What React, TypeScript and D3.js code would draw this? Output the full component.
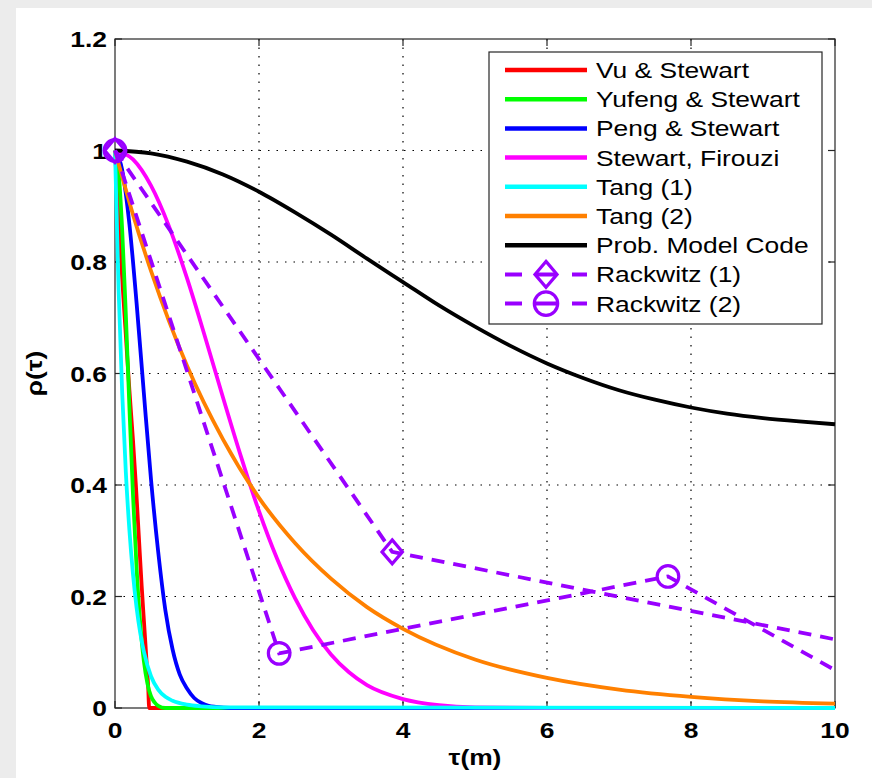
import * as d3 from "d3";

// correlation models, rho(tau)
const vuTau = [0, 0.05, 0.1, 0.15, 0.2, 0.25, 0.29, 0.33, 0.37, 0.41, 0.44, 0.46, 0.475, 0.6, 10];
const vuRho = [1, 0.88, 0.77, 0.67, 0.57, 0.48, 0.4, 0.31, 0.22, 0.14, 0.08, 0.04, 0, 0, 0];

const yufengTau = [0, 0.05, 0.1, 0.15, 0.2, 0.25, 0.3, 0.35, 0.4, 0.45, 0.5, 0.55, 0.6, 0.7, 10];
const yufengRho = [1, 0.962, 0.857, 0.707, 0.54, 0.382, 0.251, 0.152, 0.085, 0.044, 0.021, 0.01, 0.004, 0, 0];

const pengTau = [0, 0.1, 0.2, 0.3, 0.4, 0.5, 0.6, 0.7, 0.8, 0.9, 1.0, 1.1, 1.2, 1.3, 1.4, 1.6, 10];
const pengRho = [1, 0.965, 0.868, 0.726, 0.566, 0.41, 0.28, 0.175, 0.105, 0.06, 0.035, 0.018, 0.009, 0.004, 0.002, 0, 0];

const firouziTau = [0, 0.25, 0.5, 0.75, 1, 1.25, 1.5, 1.75, 2, 2.25, 2.5, 2.75, 3, 3.25, 3.5, 4, 4.5, 5, 6, 10];
const firouziRho = [1, 0.984, 0.937, 0.864, 0.771, 0.666, 0.557, 0.451, 0.353, 0.268, 0.197, 0.14, 0.096, 0.064, 0.041, 0.016, 0.005, 0.001, 0, 0];

const tang1Tau = [0, 0.05, 0.1, 0.15, 0.2, 0.25, 0.3, 0.35, 0.4, 0.5, 0.6, 0.7, 0.8, 1.0, 1.2, 1.5, 10];
const tang1Rho = [1, 0.751, 0.565, 0.424, 0.319, 0.24, 0.18, 0.135, 0.102, 0.057, 0.033, 0.02, 0.013, 0.006, 0.003, 0.001, 0];

const tang2Tau = [0, 0.25, 0.5, 0.75, 1, 1.5, 2, 2.5, 3, 3.5, 4, 5, 6, 7, 8, 9, 10];
const tang2Rho = [1, 0.885, 0.784, 0.694, 0.614, 0.482, 0.377, 0.296, 0.232, 0.181, 0.142, 0.087, 0.054, 0.033, 0.02, 0.012, 0.008];

const pmcTau = [0, 0.5, 1, 1.5, 2, 2.5, 3, 3.5, 4, 4.5, 5, 5.5, 6, 6.5, 7, 7.5, 8, 8.5, 9, 9.5, 10];
const pmcRho = [1, 0.995, 0.98, 0.957, 0.926, 0.889, 0.849, 0.806, 0.764, 0.722, 0.684, 0.649, 0.618, 0.592, 0.57, 0.553, 0.539, 0.528, 0.52, 0.514, 0.509];

const rack1Tau = [0, 3.85, 10];
const rack1Rho = [1, 0.28, 0.123];

const rack2Tau = [0, 2.28, 7.68, 10];
const rack2Rho = [1, 0.098, 0.236, 0.068];

const xTicks = [0, 2, 4, 6, 8, 10];
const yTicks = [0, 0.2, 0.4, 0.6, 0.8, 1, 1.2];

const purple = "#9900ff";

const smoothSeries = [
  { name: "Vu & Stewart", color: "#ff0000", tau: vuTau, rho: vuRho },
  { name: "Yufeng & Stewart", color: "#00ff00", tau: yufengTau, rho: yufengRho },
  { name: "Peng & Stewart", color: "#0000ff", tau: pengTau, rho: pengRho },
  { name: "Stewart, Firouzi", color: "#ff00ff", tau: firouziTau, rho: firouziRho },
  { name: "Tang (1)", color: "#00ffff", tau: tang1Tau, rho: tang1Rho },
  { name: "Tang (2)", color: "#ff8000", tau: tang2Tau, rho: tang2Rho },
  { name: "Prob. Model Code", color: "#000000", tau: pmcTau, rho: pmcRho },
];

const markedSeries = [
  { name: "Rackwitz (1)", marker: "diamond", tau: rack1Tau, rho: rack1Rho },
  { name: "Rackwitz (2)", marker: "circle", tau: rack2Tau, rho: rack2Rho },
];

const FONT = "'Liberation Sans', Arial, Helvetica, sans-serif";
const SX = 1.2; // the original text is drawn wider than Arial

function Marker({ kind, x, y, r }) {
  if (kind === "diamond") {
    return (
      <path
        d={`M${x},${y - r}L${x + r * 0.85},${y}L${x},${y + r}L${x - r * 0.85},${y}Z`}
        fill="none"
        stroke={purple}
        strokeWidth={3.2}
      />
    );
  }
  return <circle cx={x} cy={y} r={r * 0.9} fill="none" stroke={purple} strokeWidth={3.2} />;
}

function Label({ x, y, anchor, size, weight, rotate, children }) {
  const tr = `translate(${x},${y})${rotate ? ` rotate(${rotate})` : ""} scale(${SX},1)`;
  return (
    <text transform={tr} textAnchor={anchor} fontFamily={FONT} fontSize={size} fontWeight={weight} fill="#000">
      {children}
    </text>
  );
}

export default function App() {
  const width = 872;
  const height = 778;
  const left = 115, right = 835, top = 39, bottom = 708;

  const x = d3.scaleLinear().domain([0, 10]).range([left, right]);
  const y = d3.scaleLinear().domain([0, 1.2]).range([bottom, top]);

  const smooth = d3.line().curve(d3.curveMonotoneX);
  const straight = d3.line();
  const pts = (s) => s.tau.map((t, i) => [x(t), y(s.rho[i])]);

  const legX = 489, legY = 52, legW = 333, legH = 272;
  const rowY = (i) => 70 + i * 29.2;
  const legendItems = [...smoothSeries, ...markedSeries];
  const tickLen = 7;
  const axisColor = "#262626";

  return (
    <svg width={width} height={height} style={{ position: "absolute", left: 0, top: 0 }}>
      <rect x={0} y={0} width={width} height={height} fill="#ececec" />
      <rect x={16} y={8} width={width - 16} height={height - 8} fill="#fff" />

      {/* grid */}
      <g stroke="#000" strokeWidth={1.2} strokeDasharray="1.5 7">
        {xTicks.filter((t) => t > 0 && t < 10).map((t) => (
          <line key={"gx" + t} x1={x(t)} x2={x(t)} y1={top} y2={bottom} />
        ))}
        {yTicks.filter((t) => t > 0 && t < 1.2).map((t) => (
          <line key={"gy" + t} x1={left} x2={right} y1={y(t)} y2={y(t)} />
        ))}
      </g>

      {/* axes box and ticks */}
      <rect x={left} y={top} width={right - left} height={bottom - top} fill="none" stroke={axisColor} strokeWidth={1.2} />
      <g stroke={axisColor} strokeWidth={1.2}>
        {xTicks.map((t) => (
          <g key={"tx" + t}>
            <line x1={x(t)} x2={x(t)} y1={bottom} y2={bottom - tickLen} />
            <line x1={x(t)} x2={x(t)} y1={top} y2={top + tickLen} />
          </g>
        ))}
        {yTicks.map((t) => (
          <g key={"ty" + t}>
            <line x1={left} x2={left + tickLen} y1={y(t)} y2={y(t)} />
            <line x1={right} x2={right - tickLen} y1={y(t)} y2={y(t)} />
          </g>
        ))}
      </g>

      {/* tick labels */}
      {xTicks.map((t) => (
        <Label key={"lx" + t} x={x(t)} y={bottom + 30} anchor="middle" size={22} weight="bold">
          {String(t)}
        </Label>
      ))}
      {yTicks.map((t) => (
        <Label key={"ly" + t} x={left - 8} y={y(t) + 8} anchor="end" size={22} weight="bold">
          {String(t)}
        </Label>
      ))}

      <Label x={(left + right) / 2} y={765} anchor="middle" size={22} weight="bold">
        τ(m)
      </Label>
      <Label x={42} y={(top + bottom) / 2} anchor="middle" size={22} weight="bold" rotate={-90}>
        ρ(τ)
      </Label>

      {/* curves */}
      {smoothSeries.map((s) => (
        <path key={s.name} d={smooth(pts(s))} fill="none" stroke={s.color} strokeWidth={3.8} strokeLinejoin="round" />
      ))}
      {markedSeries.map((s) => (
        <g key={s.name}>
          <path d={straight(pts(s))} fill="none" stroke={purple} strokeWidth={3.8} strokeDasharray="13 9" />
          {s.tau.slice(0, s.marker === "diamond" ? 2 : 3).map((t, i) => (
            <Marker key={i} kind={s.marker} x={x(t)} y={y(s.rho[i])} r={12} />
          ))}
        </g>
      ))}

      {/* legend */}
      <rect x={legX} y={legY} width={legW} height={legH} fill="#fff" stroke={axisColor} strokeWidth={1.2} />
      {legendItems.map((s, i) => {
        const cy = rowY(i);
        const marked = "marker" in s;
        return (
          <g key={"leg" + s.name}>
            {marked ? (
              <>
                <line x1={505} x2={587} y1={cy} y2={cy} stroke={purple} strokeWidth={4} strokeDasharray="17 13 22 15 15" />
                <Marker kind={s.marker} x={546} y={cy} r={13} />
              </>
            ) : (
              <line x1={505} x2={587} y1={cy} y2={cy} stroke={s.color} strokeWidth={4.5} />
            )}
            <Label x={596} y={cy + 8} anchor="start" size={22} weight="normal">
              {s.name}
            </Label>
          </g>
        );
      })}
    </svg>
  );
}
